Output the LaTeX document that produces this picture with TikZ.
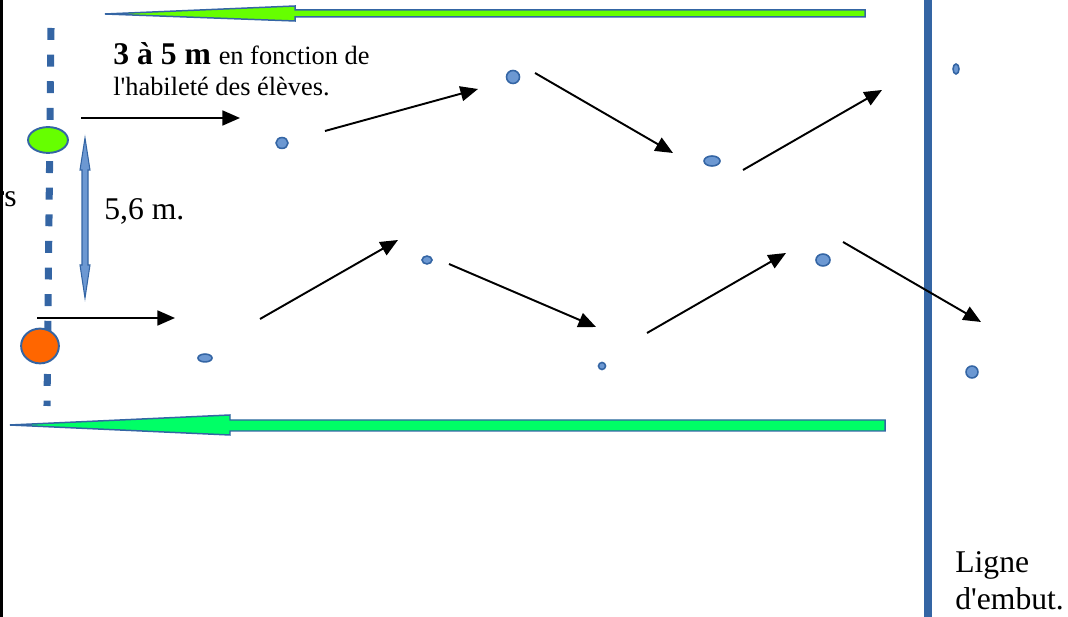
\documentclass[tikz,border=0pt]{standalone}
\usepackage{fontspec}
\setmainfont{Liberation Serif}
\usetikzlibrary{arrows.meta,shapes.geometric}
\definecolor{lineblue}{RGB}{52,101,164}
\definecolor{dotblue}{RGB}{108,152,210}
\definecolor{limegreen}{RGB}{102,255,0}
\definecolor{springgreen}{RGB}{0,255,102}
\definecolor{ballorange}{RGB}{255,102,0}
\tikzset{
  pass/.style={line width=1.1pt,-{Triangle[length=10pt,width=8.5pt]}},
  dot/.style={ellipse,draw=lineblue,fill=dotblue,line width=0.9pt,inner sep=0pt},
  ball/.style={ellipse,draw=lineblue,line width=1.1pt,inner sep=0pt},
  big/.style={font=\fontsize{18}{20}\selectfont},
  small/.style={font=\fontsize{15}{17}\selectfont}
}
\begin{document}
\begin{tikzpicture}[x=0.02cm,y=-0.02cm]
      \useasboundingbox (0,0) rectangle (1068,617);
      \draw[line width=1.7pt] (1.5,0) -- (1.5,617);
      \draw[lineblue,line width=4.5pt] (928,0) -- (928,617);
      \draw[lineblue,line width=4pt,dash pattern=on 6.8pt off 8.35pt] (51,28) -- (47,406);
      \filldraw[fill=limegreen,draw=lineblue,line width=0.85pt] (865,10) -- (295,10) -- (295,6) -- (105,14) -- (295,21) -- (295,17) -- (865,17) -- cycle;
      \filldraw[fill=springgreen,draw=lineblue,line width=0.85pt] (885,420) -- (230,420) -- (230,415) -- (10,425) -- (230,435) -- (230,431) -- (885,431) -- cycle;
      \filldraw[fill=dotblue,draw=lineblue,line width=0.6pt] (85,138) -- (90,170) -- (88,170) -- (88,265) -- (90,265) -- (85,298) -- (80,265) -- (82,265) -- (82,170) -- (80,170) -- cycle;
      \node[ball,fill=limegreen,minimum width=22.7pt,minimum height=14.7pt] (green) at (48,140) {};
      \node[ball,fill=ballorange,minimum width=21.5pt,minimum height=19.8pt] (orange) at (40,346) {};
      \node[dot,minimum width=6.8pt,minimum height=6.2pt] (d1) at (282,143) {};
      \node[dot,minimum width=7.4pt,minimum height=7.4pt] (d2) at (513,77) {};
      \node[dot,minimum width=9.1pt,minimum height=5.7pt] (d3) at (712,161) {};
      \node[dot,minimum width=3.4pt,minimum height=5.7pt] (d4) at (956,69) {};
      \node[dot,minimum width=5.7pt,minimum height=4.5pt] (d5) at (427,260) {};
      \node[dot,minimum width=8pt,minimum height=4.5pt] (d6) at (205,358) {};
      \node[dot,minimum width=8pt,minimum height=6.8pt] (d7) at (823,260) {};
      \node[dot,minimum width=4pt,minimum height=4pt] (d8) at (602,366) {};
      \node[dot,minimum width=6.8pt,minimum height=6.8pt] (d9) at (972,372) {};
      \coordinate (a1) at (81,118); \coordinate (b1) at (240,118);
      \coordinate (a2) at (325,131); \coordinate (b2) at (478,89);
      \coordinate (a3) at (535,73); \coordinate (b3) at (673,153);
      \coordinate (a4) at (743,170); \coordinate (b4) at (882,90);
      \coordinate (a5) at (260,319); \coordinate (b5) at (398,240);
      \coordinate (a6) at (449,264); \coordinate (b6) at (596,327);
      \coordinate (a7) at (647,333); \coordinate (b7) at (786,253);
      \coordinate (a8) at (843,242); \coordinate (b8) at (981,322);
      \coordinate (a9) at (37,318); \coordinate (b9) at (175,318);
      \foreach \i in {1,...,9} \draw[pass] (a\i) -- (b\i);
      \node[anchor=base west,inner sep=0pt] (dist) at (113,65) {\fontsize{18}{20}\selectfont\textbf{3 à 5 m} \fontsize{15}{17}\selectfont en fonction de};
      \node[small,anchor=base west,inner sep=0pt] (skill) at (113,96) {l\textquotesingle habileté des élèves.};
      \node[big,anchor=base west,inner sep=0pt] (gap) at (104,220) {5,6 m.};
      \node[big,anchor=base east,inner sep=0pt] (cut) at (17,207) {rs};
      \node[big,anchor=base west,inner sep=0pt] (ligne) at (955,573) {Ligne};
      \node[big,anchor=base west,inner sep=0pt] (embut) at (955,610) {d\textquotesingle embut.};
    \end{tikzpicture}
\end{document}
